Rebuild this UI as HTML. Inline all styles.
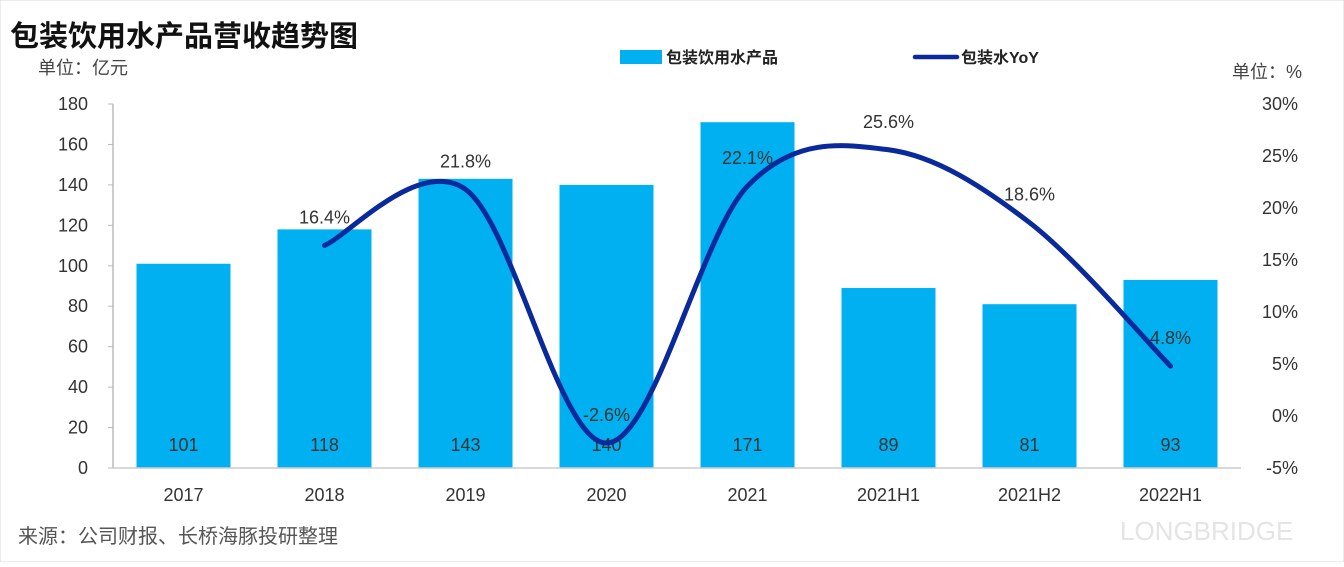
<!DOCTYPE html>
<html><head><meta charset="utf-8"><style>
body{margin:0;background:#fff;}
svg text{font-family:"Liberation Sans","Noto Sans CJK SC",sans-serif;}
</style></head><body>
<svg width="1344" height="562" viewBox="0 0 1344 562" xmlns="http://www.w3.org/2000/svg">
<rect x="0" y="0" width="1344" height="562" fill="#fff" stroke="#d8d8d8"/>
<text x="10" y="46" font-size="29" font-weight="bold" fill="#111">包装饮用水产品营收趋势图</text>
<text x="38" y="74" font-size="18" fill="#444">单位：亿元</text>
<text x="1232" y="78" font-size="18" fill="#444">单位：%</text>
<g>
<rect x="620" y="50" width="42" height="14" fill="#00b0f0"/>
<text x="666" y="63" font-size="16" font-weight="bold" fill="#222">包装饮用水产品</text>
<line x1="915" y1="57" x2="957" y2="57" stroke="#0a2a9c" stroke-width="4.5" stroke-linecap="round"/>
<text x="961" y="63" font-size="16" font-weight="bold" fill="#222">包装水YoY</text>
</g>
<text x="18" y="543" font-size="20" fill="#555">来源：公司财报、长桥海豚投研整理</text>
<text x="1120" y="540" font-size="26" fill="#e4e4e4">LONGBRIDGE</text>
<g id="plot"></g>
</svg>
<script>
const categories=["2017","2018","2019","2020","2021","2021H1","2021H2","2022H1"];
const revenue=[101,118,143,140,171,89,81,93];
const yoy=[null,16.4,21.8,-2.6,22.1,25.6,18.6,4.8];
const leftTicks=[0,20,40,60,80,100,120,140,160,180];
const rightTicks=[-5,0,5,10,15,20,25,30];

const NS="http://www.w3.org/2000/svg";
const g=document.getElementById('plot');
const X0=113,STEP=141,Y0=468,YT=104;
const xC=i=>X0+STEP*(i+0.5);
const yL=v=>Y0-(v-0)/(180-0)*(Y0-YT);
const yR=v=>Y0-(v+5)/35*(Y0-YT);
function mk(tag,attrs,txt){const e=document.createElementNS(NS,tag);for(const k in attrs)e.setAttribute(k,attrs[k]);if(txt!==undefined)e.textContent=txt;g.appendChild(e);return e;}

leftTicks.forEach(v=>{
 const t=mk('text',{x:88,y:yL(v)+6,'font-size':18,fill:'#333','text-anchor':'end'},v);
 
 
 const l=mk('line',{x1:X0-5,x2:X0,y1:yL(v),y2:yL(v),stroke:'#bbb'});
 
 
});
rightTicks.forEach(v=>{
 const t=mk('text',{x:1298,y:yR(v)+6,'font-size':18,fill:'#333','text-anchor':'end'},v+'%');
 
 
});
const ax=mk('line',{x1:X0,x2:X0,y1:YT,y2:Y0,stroke:'#bbb','stroke-width':1.5});



revenue.forEach((v,i)=>{
 const b=mk('rect',{x:xC(i)-47,y:yL(v),width:94,height:Y0-yL(v),fill:'#00b0f0'});
 
 
 const t=mk('text',{x:xC(i),y:451,'font-size':18,fill:'#333','text-anchor':'middle'},v);
 
 
 const c=mk('text',{x:xC(i),y:501,'font-size':18,fill:'#333','text-anchor':'middle'},categories[i]);
 
 
});
const base=mk('line',{x1:X0,x2:X0+STEP*8,y1:Y0,y2:Y0,stroke:'#ccc','stroke-width':1.5});



const pts=[];yoy.forEach((v,i)=>{if(v!==null)pts.push([xC(i),yR(v)]);});
let d='M'+pts[0][0]+','+pts[0][1];
for(let i=0;i<pts.length-1;i++){
 const p0=pts[Math.max(0,i-1)],p1=pts[i],p2=pts[i+1],p3=pts[Math.min(pts.length-1,i+2)];
 const k=1/6;
 d+=` C${p1[0]+(p2[0]-p0[0])*k},${p1[1]+(p2[1]-p0[1])*k} ${p2[0]-(p3[0]-p1[0])*k},${p2[1]-(p3[1]-p1[1])*k} ${p2[0]},${p2[1]}`;
}
const ln=mk('path',{d:d,fill:'none',stroke:'#0a2a9c','stroke-width':5,'stroke-linecap':'round'});


yoy.forEach((v,i)=>{
 if(v===null)return;
 const t=mk('text',{x:xC(i),y:yR(v)-22,'font-size':18,fill:'#333','text-anchor':'middle'},v.toFixed(1)+'%');
 
 
});
</script>
</body></html>
